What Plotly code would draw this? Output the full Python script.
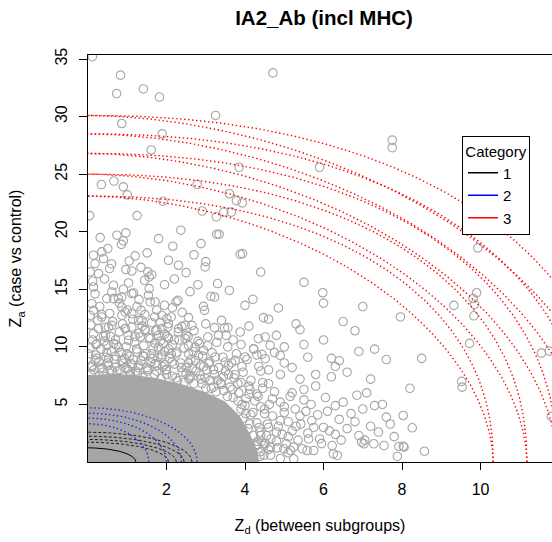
import numpy as np
import plotly.graph_objects as go

# ---------------- data ----------------
# scattered points (Z_d, Z_a)
zd_pts = [0.11, 0.83, 0.73, 1.41, 1.82, 4.71, 0.86, 3.25, 1.89, 1.61, 3.85, 5.9, 0.34, 0.66, 0.9, 1.0, 2.78, 1.91, 3.6, 3.78, 3.93, 2.91, 3.46, 3.65, 1.25, 0.04, 3.27, 7.75, 7.75,
          0.31, 0.735, 0.964, 2.365, 3.28, 3.34, 0.14, 0.35, 0.505, 0.395, 0.18, 0.055, 0.27, 1.05, 0.964, 1.117, 1.507, 2.05, 2.16, 2.88, 2.306, 2.50, 2.985, 3.877, 3.936,
          1.524, 1.558, 1.626, 1.44, 1.032, 0.65, 0.14, 0.607, 0.65, 0.48, 0.777, 0.862, 1.117, 1.16, 1.54, 1.558, 1.71, 1.584, 2.246, 2.29, 1.949, 2.943, 2.968, 3.13, 3.223,
          4.20, 4.85, 4.47, 0.098, 0.14, 0.055, 0.35, 0.862, 0.947, 0.862, 1.117, 1.354, 1.287, 1.372, 1.881, 2.008, 2.034, 1.839, 2.05, 2.56, 2.39, 2.475, 2.645, 2.306,
          3.223, 3.478, 3.563, 3.52, 3.325, 3.877, 3.053, 2.84, 2.56, 2.73, 2.475, 2.05, 1.92, 1.754, 1.796, 1.584, 1.796, 1.329, 1.456, 1.117, 0.947, 0.607, 0.522, 0.267,
          0.14, 0.395, 0.225, 0.48, 0.65, 0.777, 1.032, 0.99, 1.244, 1.414, 1.626, 1.881, 2.05, 2.263, 2.56, 2.815, 2.943, 3.24, 3.495, 3.75, 4.0, 4.34, 4.514, 4.64, 4.896,
          4.43, 4.514, 0.862, 0.522, 0.18, 0.013, 0.098, 0.692, 1.287, 1.71, 2.136, 2.56, 3.07, 3.58, 3.92, 4.22,
          6.0, 6.8, 5.5, 6.2, 7.3, 6.6, 5.3, 5.98,
          9.93, 9.9, 9.81, 9.85, 9.32, 9.83, 9.72, 9.52, 9.53, 8.03, 8.26, 8.03, 8.57, 11.55, 11.75, 11.8, 7.96,
          7.88, 7.92, 8.05, 6.25, 6.35, 6.22, 6.97, 7.03, 7.28, 7.54, 5.75, 5.58, 5.46, 5.24, 5.16, 4.99, 4.82, 4.65, 4.48, 4.31, 5.24,
          4.4, 4.6, 4.5, 4.8, 4.9, 5.1, 5.0, 4.7, 5.3, 5.4, 5.6, 5.7, 5.2, 5.5, 5.9, 6.0, 6.1, 5.8, 6.3, 6.4, 6.6, 6.5, 6.8, 6.9, 7.0, 7.2, 7.4, 7.6, 7.1, 6.2, 4.6, 4.9, 5.4, 7.8, 4.3, 4.1, 4.4, 5.0, 6.4, 7.5,
          0.08, 0.3, 0.45, 0.62, 0.78, 0.95, 1.08, 1.22, 1.4, 1.52, 1.7, 1.86, 1.98, 2.15, 2.28, 2.4, 2.57, 2.7, 2.86, 3.0, 3.12, 3.26, 3.4, 3.55, 3.68, 3.82, 1.1, 0.5, 1.95, 2.65, 3.2, 3.45, 3.9, 4.1, 4.0, 4.15, 4.3, 4.38, 4.42, 4.48, 4.6, 4.55, 4.25, 4.5, 3.75, 2.95,
          0.05, 0.12, 0.2, 0.28, 0.33, 0.41, 0.46, 0.52, 0.57, 0.6, 0.68, 0.72, 0.8, 0.84, 0.9, 0.97, 1.02, 1.06, 1.13, 1.19, 1.24, 1.3, 1.35, 1.42, 1.47, 1.55, 1.6, 1.66, 1.72, 1.78, 1.84, 1.9, 1.95, 2.02, 2.08, 2.15, 2.2,
          0.07, 0.25, 0.44, 0.63, 0.88, 1.14, 1.38, 1.62, 1.88, 2.12, 0.15, 0.38, 0.74, 1.0, 1.27, 1.5, 1.75, 2.0, 0.55, 1.0, 0.3, 1.45, 0.18, 0.42, 0.9, 1.3, 1.75, 2.4, 2.6, 1.95, 1.2, 0.55, 0.85,
          2.25, 2.32, 2.38, 2.45, 2.5, 2.55, 2.62, 2.68, 2.75, 2.8, 2.86, 2.92, 2.98, 3.05, 3.1, 3.16, 3.22, 3.28, 3.33, 3.38, 3.44, 3.5, 3.56, 3.62, 3.66, 3.72, 3.78, 3.84, 2.3, 2.7, 3.0, 3.4, 3.7, 2.9, 3.2, 2.45, 2.6, 3.95, 4.05, 4.15, 4.22, 4.35, 4.45, 4.6, 4.75,
          3.9, 3.95, 4.02, 4.08, 4.12, 4.2, 4.28, 4.33, 4.36, 4.4, 4.45, 4.52, 4.57, 4.62, 4.66, 4.7, 4.75, 4.8, 4.85, 4.9, 4.95, 5.0, 5.05, 5.1, 5.15, 5.2, 5.28, 5.35, 5.42, 5.5, 5.55, 5.62, 5.68, 5.75, 5.85, 5.95, 6.05, 6.15, 6.3, 6.45, 6.7, 6.85, 7.05, 7.3, 7.7, 4.2, 4.4, 4.65, 4.9, 5.1,
          3.9, 4.1, 4.3, 4.6, 4.8, 5.0, 5.2, 5.4, 5.6, 5.8, 6.0, 6.3, 6.5, 6.9, 7.2, 7.6, 8.2, 8.5, 7.0, 5.5, 4.4, 3.3, 2.7, 4.0, 3.6,
          0.1, 0.22, 0.36, 0.48, 0.58, 0.7, 0.82, 0.93, 1.04, 1.16, 1.28, 1.4, 1.52, 1.64, 1.76, 1.88, 2.0, 2.12, 2.24, 2.36, 2.5, 2.62, 2.74, 2.88, 3.02, 3.14, 3.3, 3.46, 3.58, 3.7, 3.82, 3.92, 4.02, 4.12, 4.22, 4.32, 4.38,
          0.2, 0.45, 0.7, 0.95, 1.2, 1.45, 1.7, 1.95, 2.2, 2.5, 0.35, 0.8, 1.25, 1.7, 2.15, 0.12, 0.6, 1.35, 2.2, 2.8, 0.9, 1.8, 3.0]
za_pts = [35.2, 33.6, 32.0, 32.4, 31.7, 33.8, 29.4, 30.1, 28.5, 27.1, 25.6, 25.6, 24.1, 24.4, 23.9, 23.2, 24.1, 22.65, 23.3, 22.7, 22.5, 21.8, 21.7, 21.7, 21.4, 21.4, 21.3, 27.96, 27.3,
          19.49, 19.70, 19.90, 20.13, 19.78, 19.78, 17.96, 18.25, 18.54, 17.67, 17.23, 16.51, 16.36, 17.46, 16.71, 16.59, 18.16, 17.52, 18.74, 18.97, 17.09, 16.45, 16.94, 18.04, 18.1,
          16.51, 16.07, 16.27, 15.78, 15.55, 15.35, 15.20, 14.77, 14.19, 14.19, 14.19, 14.33, 14.62, 14.68, 14.48, 15.06, 13.9, 13.9, 13.9, 14.04, 13.61, 13.52, 13.17, 14.39, 14.33,
          14.13, 13.38, 12.54, 13.75, 13.17, 12.74, 12.59, 13.46, 13.03, 12.74, 12.88, 13.17, 12.30, 12.30, 12.74, 12.45, 11.72, 12.16, 12.01, 12.54, 11.78, 11.87, 11.87, 11.58,
          11.67, 11.64, 11.67, 11.0, 11.0, 11.29, 10.86, 10.28, 10.13, 9.98, 10.71, 10.71, 10.28, 11.43, 11.0, 10.71, 9.98, 10.86, 11.43, 11.72, 11.58, 11.87, 11.72, 11.58,
          11.14, 10.91, 10.28, 10.13, 10.28, 9.98, 10.57, 9.40, 9.55, 9.17, 9.40, 9.12, 9.84, 9.55, 9.40, 9.26, 9.70, 9.12, 8.68, 8.83, 9.12, 10.71, 10.86, 10.13, 9.26,
          9.35, 8.97, 8.83, 8.97, 8.83, 9.40, 8.25, 8.25, 8.39, 8.54, 8.68, 8.59, 8.54, 8.39, 8.30, 9.84,
          13.8, 11.4, 10.2, 9.0, 9.8, 7.8, 12.0, 14.7,
          18.6, 14.7, 14.2, 13.7, 13.6, 12.7, 10.3, 7.0, 6.5, 4.04, 2.97, 1.37, 0.94, 9.46, 9.63, 3.96, 12.6,
          0.48, 1.35, 1.29, 0.71, 0.57, 1.43, 1.72, 1.58, 1.58, 1.43, 1.0, 1.0, 1.15, 1.29, 1.0, 1.15, 1.23, 1.29, 1.43, 1.52, 0.28,
          2.3, 3.0, 4.2, 2.6, 3.6, 2.2, 4.8, 5.5, 3.1, 4.0, 2.5, 3.6, 6.0, 5.4, 2.0, 3.0, 4.4, 6.6, 2.4, 3.7, 2.9, 5.2, 3.5, 2.3, 4.6, 3.1, 2.6, 3.9, 6.0, 7.4, 6.8, 7.6, 7.2, 2.2, 5.9, 6.6, 7.9, 8.6, 8.8, 5.0,
          7.6, 8.1, 7.4, 7.9, 7.3, 8.2, 7.6, 7.9, 7.35, 8.05, 7.6, 7.25, 8.0, 7.45, 7.05, 7.8, 7.2, 6.8, 7.55, 6.4, 7.1, 6.1, 6.75, 5.7, 6.3, 5.3, 8.55, 8.6, 8.45, 8.1, 8.0, 7.4, 6.9, 5.9, 4.9, 4.1, 3.4, 2.6, 1.8, 0.6, 1.1, 2.3, 5.3, 4.6, 7.6, 8.3,
          9.9, 10.6, 9.3, 8.7, 9.8, 10.5, 9.1, 8.4, 10.9, 9.6, 8.9, 10.2, 11.3, 9.5, 8.6, 10.0, 11.0, 9.2, 8.4, 10.4, 9.8, 11.2, 8.8, 10.1, 9.4, 10.8, 8.6, 9.9, 11.4, 9.1, 10.5, 8.3, 9.6, 10.9, 9.0, 10.2, 8.5,
          11.9, 12.3, 11.7, 12.2, 12.0, 12.4, 11.8, 12.1, 11.6, 12.6, 8.0, 7.8, 7.9, 8.1, 7.7, 8.2, 7.9, 7.6, 12.9, 13.2, 13.5, 12.8, 14.6, 15.9, 15.0, 14.1, 13.2, 13.0, 14.8, 15.4, 17.9, 16.8, 18.9,
          9.4, 10.6, 8.2, 9.9, 7.7, 10.9, 8.9, 9.6, 7.9, 10.5, 8.4, 9.2, 7.3, 10.1, 8.7, 9.5, 7.6, 10.4, 8.2, 6.9, 9.1, 7.9, 10.0, 6.5, 8.6, 7.3, 9.4, 6.0, 11.3, 11.4, 12.0, 12.3, 10.6, 6.8, 6.5, 6.9, 7.3, 7.8, 8.9, 7.1, 9.8, 8.3, 6.9, 8.0, 9.5,
          4.6, 3.8, 5.5, 2.9, 6.3, 4.3, 1.4, 5.7, 3.0, 4.8, 6.4, 1.6, 3.3, 5.0, 2.0, 4.0, 6.1, 1.8, 3.1, 5.2, 2.4, 4.3, 1.6, 3.5, 5.7, 2.7, 4.6, 1.9, 3.3, 6.3, 4.4, 2.0, 5.0, 3.0, 4.1, 1.6, 5.6, 2.7, 4.9, 1.9, 4.2, 5.8, 1.9, 4.9, 3.3, 0.4, 0.9, 0.6, 0.3, 0.8,
          10.2, 11.8, 9.3, 12.4, 11.0, 10.0, 8.2, 11.5, 9.1, 7.6, 10.6, 8.3, 12.2, 9.6, 7.2, 8.9, 6.4, 9.0, 13.5, 15.6, 16.5, 15.5, 18.0, 13.6, 14.9,
          8.4, 9.0, 8.2, 9.5, 8.0, 9.2, 8.0, 9.0, 7.9, 8.9, 8.2, 9.2, 7.9, 9.0, 8.4, 9.3, 8.0, 9.4, 7.3, 8.6, 8.2, 7.5, 8.8, 7.2, 8.0, 6.4, 7.1, 6.2, 7.6, 5.6, 6.8, 5.0, 4.2, 3.3, 2.3, 1.8, 0.5,
          10.2, 11.0, 10.6, 11.6, 10.9, 11.5, 10.3, 11.1, 10.6, 11.0, 12.8, 13.8, 13.5, 12.6, 13.4, 15.7, 17.2, 16.9, 15.9, 15.4, 19.2, 19.4, 17.4]

# solid dense core of overlapping points (outline, data units)
core_zd = [0, 0, 0.6, 1.2, 1.8, 2.4, 3.0, 3.5, 3.85, 4.1, 4.3, 4.35, 0]
core_za = [0, 7.5, 7.6, 7.5, 7.2, 6.7, 6.0, 5.2, 4.0, 2.5, 1.0, 0, 0]

# contour intercepts
red_za_int = [23.1, 25.0, 26.8, 28.5, 30.1]
red_zd_int = [10.32, 11.18, 11.95, 12.73, 13.44]
red_shapes = [1.85, 2.2]
blue_za_int = [3.32, 3.81, 4.24, 4.71]
blue_zd_int = [1.55, 2.0, 2.38, 2.78]
black_dash_za_int = [1.72, 1.96, 2.24, 2.59]
black_dash_zd_int = [2.05, 2.25, 2.45, 2.65]
black_solid_za_int = [1.23]
black_solid_zd_int = [1.22]

categories = ["1", "2", "3"]
cat_colors = ["#000000", "#0000FF", "#FF0000"]

x_ticks = [2, 4, 6, 8, 10]
y_ticks = [5, 10, 15, 20, 25, 30, 35]

FONT = "Liberation Sans, Arial, Helvetica, sans-serif"
GREY = "#A6A6A6"


def curve(a, b, p, n=240):
    t = np.linspace(0, np.pi / 2, n)
    return a * np.cos(t) ** (2.0 / p), b * np.sin(t) ** (2.0 / p)


fig = go.Figure()

fig.add_trace(go.Scatter(x=core_zd, y=core_za, mode="lines", fill="toself",
                         fillcolor=GREY, line=dict(color=GREY, width=1),
                         showlegend=False, hoverinfo="skip"))
fig.add_trace(go.Scatter(x=zd_pts, y=za_pts, mode="markers",
                         marker=dict(symbol="circle-open", size=8.5, color=GREY,
                                     line=dict(width=1.1, color=GREY)),
                         showlegend=False))

for a, b in zip(black_solid_zd_int, black_solid_za_int):
    x, y = curve(a, b, 2.0)
    fig.add_trace(go.Scatter(x=x, y=y, mode="lines", line=dict(color="#000000", width=1),
                             showlegend=False, hoverinfo="skip"))
for a, b in zip(black_dash_zd_int, black_dash_za_int):
    x, y = curve(a, b, 2.0)
    fig.add_trace(go.Scatter(x=x, y=y, mode="lines",
                             line=dict(color="#202020", width=1, dash="3px,2px"),
                             showlegend=False, hoverinfo="skip"))
for a, b in zip(blue_zd_int, blue_za_int):
    x, y = curve(a, b, 2.0)
    fig.add_trace(go.Scatter(x=x, y=y, mode="lines",
                             line=dict(color="#2222EE", width=1.4, dash="1.4px,2.6px"),
                             showlegend=False, hoverinfo="skip"))
for a, b in zip(red_zd_int, red_za_int):
    for p in red_shapes:
        x, y = curve(a, b, p)
        fig.add_trace(go.Scatter(x=x, y=y, mode="lines",
                                 line=dict(color="#FF0000", width=1.4, dash="1.4px,2.6px"),
                                 showlegend=False, hoverinfo="skip"))

# legend entries
for c, col in zip(categories, cat_colors):
    fig.add_trace(go.Scatter(x=[None], y=[None], mode="lines", name=c,
                             line=dict(color=col, width=1.5)))

fig.update_layout(
    width=552, height=542,
    margin=dict(l=88, r=0, t=55, b=80),
    paper_bgcolor="white", plot_bgcolor="white",
    font=dict(family=FONT, size=16, color="black"),
    title=dict(text="<b>IA2_Ab (incl MHC)</b>", x=324 / 552, xanchor="center",
               y=1 - 17.5 / 542, yanchor="middle", yref="container",
               font=dict(size=20.5, family=FONT)),
    showlegend=True,
    legend=dict(title=dict(text="Category", side="top center", font=dict(size=15)),
                x=(462 - 88) / 464, y=(462 - 136) / 407, xanchor="left", yanchor="top",
                bgcolor="white", bordercolor="black", borderwidth=1,
                font=dict(size=15), itemwidth=30, tracegroupgap=0),
    xaxis=dict(range=[0, 11.82], tickvals=x_ticks, showgrid=False, zeroline=False,
               showline=True, linecolor="black", linewidth=1, mirror=True,
               ticks="outside", ticklen=7, tickcolor="black", tickwidth=1,
               tickfont=dict(size=16), ticklabelstandoff=6,
               title=dict(text="Z<sub>d</sub> (between subgroups)", font=dict(size=16), standoff=22)),
    yaxis=dict(range=[0, 35.35], tickvals=y_ticks, showgrid=False, zeroline=False,
               showline=True, linecolor="black", linewidth=1, mirror=False,
               ticks="outside", ticklen=8, tickcolor="black", tickwidth=1,
               tickangle=-90, tickfont=dict(size=16), ticklabelstandoff=6,
               title=dict(text="Z<sub>a</sub> (case vs control)", font=dict(size=16), standoff=26)),
)

fig.write_html("out.html")
